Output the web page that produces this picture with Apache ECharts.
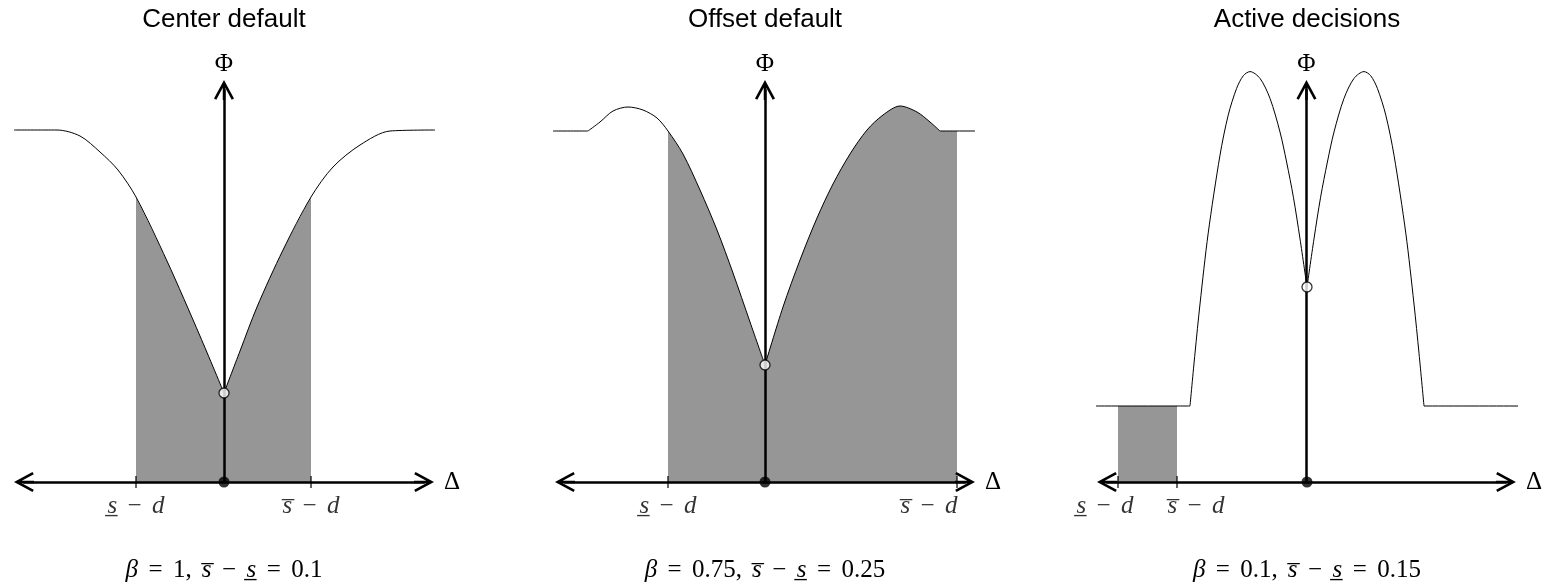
<!DOCTYPE html>
<html>
<head>
<meta charset="utf-8">
<title>Φ against Δ</title>
<script src="https://cdn.jsdelivr.net/npm/echarts@6/dist/echarts.min.js"></script>
<style>
  html, body { margin: 0; padding: 0; background: #fff; }
  #chart { width: 1545px; height: 588px; }
</style>
</head>
<body>
<div id="chart"></div>
<script>
// panel texts
const panelTitles = ['Center default', 'Offset default', 'Active decisions']
const betaValues = ['1', '0.75', '0.1']
const spreadValues = ['0.1', '0.25', '0.15']
const tickLabels = ['{i|s\u0332}{op|−}{i|d}', '{i|s\u0305}{op|−}{i|d}']

// curve pieces as [Δ, Φ], split where the curve has a corner
const centerLeft = [[-5.25, 8.8], [-4.175, 8.8], [-3.6, 8.65], [-3.1, 8.25], [-2.65, 7.8], [-2.2, 7.125], [-1.425, 5.525], [-0.6, 3.65], [0, 2.225]]
const centerRight = [[0, 2.225], [0.4, 3.275], [0.825, 4.375], [1.475, 5.8], [2.175, 7.125], [2.725, 7.875], [3.4, 8.425], [4.15, 8.775], [5.275, 8.8]]
const centerTicks = [-2.2, 2.175]

const offsetFlatL = [[-5.3, 8.775], [-4.425, 8.775]]
const offsetLeft = [[-4.425, 8.775], [-4.125, 9.0], [-3.8, 9.275], [-3.425, 9.375], [-3.05, 9.3], [-2.7, 9.1], [-2.425, 8.775], [-2.05, 8.2], [-1.625, 7.3], [-1.2, 6.3], [-0.8, 5.225], [-0.375, 4.0], [0, 2.925]]
const offsetRight = [[0, 2.925], [0.45, 4.375], [0.875, 5.55], [1.3, 6.6], [1.7, 7.45], [2.125, 8.2], [2.55, 8.8], [2.95, 9.175], [3.375, 9.4], [3.8, 9.25], [4.125, 9.0], [4.375, 8.775]]
const offsetFlatR = [[4.375, 8.775], [4.8, 8.775], [5.25, 8.775]]
const offsetTicks = [-2.425, 4.8]

const activeFlatL = [[-5.275, 1.9], [-4.725, 1.9], [-3.25, 1.9], [-2.925, 1.9]]
const activeLeft = [[-2.925, 1.9], [-2.8, 3.22], [-2.675, 4.45], [-2.47, 6.22], [-2.175, 8.17], [-1.97, 9.17], [-1.76, 9.84], [-1.59, 10.16], [-1.425, 10.26], [-1.175, 10.09], [-0.925, 9.59], [-0.675, 8.75], [-0.51, 8.0], [-0.34, 7.12], [-0.175, 6.08], [0, 4.875]]
const activeRight = [[0, 4.875], [0.175, 6.08], [0.34, 7.12], [0.51, 8.0], [0.675, 8.75], [0.925, 9.59], [1.175, 10.09], [1.425, 10.26], [1.59, 10.16], [1.76, 9.84], [1.97, 9.17], [2.175, 8.17], [2.47, 6.22], [2.675, 4.45], [2.8, 3.22], [2.925, 1.9]]
const activeFlatR = [[2.925, 1.9], [5.275, 1.9]]
const activeTicks = [-4.725, -3.25]

const panels = [
  { pieces: [centerLeft, centerRight], ticks: centerTicks, kink: centerLeft[centerLeft.length - 1][1], labelShift: [0, 0] },
  { pieces: [offsetFlatL, offsetLeft, offsetRight, offsetFlatR], ticks: offsetTicks, kink: offsetLeft[offsetLeft.length - 1][1], labelShift: [0, -28] },
  { pieces: [activeFlatL, activeLeft, activeRight, activeFlatR], ticks: activeTicks, kink: activeLeft[activeLeft.length - 1][1], labelShift: [-13, 19] }
]

// layout: pixel x of each Φ axis, 40 px per unit
const originX = [224, 765, 1307]
const SERIF = 'Liberation Serif'
const GRAY = '#969696'
const chevron = 'path://M10,0 L20,18.5 L17.7,19.8 L11.25,7.74 L11.25,20 L8.75,20 L8.75,7.74 L2.3,19.8 L0,18.5 Z'
// operators get a fixed box so the spacing reads like TeX math
const mathRich = {
  i: { fontStyle: 'italic', fontFamily: SERIF, fontSize: 25, color: '#000' },
  op: { fontFamily: SERIF, fontSize: 25, color: '#000', width: 35, align: 'center' },
  sp: { fontFamily: SERIF, fontSize: 25, color: '#000', width: 10 }
}
const hidden = { show: false }

const grid = [], xAxis = [], yAxis = [], series = [], title = []

panels.forEach((p, i) => {
  const ga = 2 * i, gb = 2 * i + 1
  // grid a: the drawn axes; grid b: same scale, a little wider, for the marks
  grid.push({ left: originX[i] - 200, top: 90, width: 400, height: 392 })
  grid.push({ left: originX[i] - 212, top: 90, width: 424, height: 392 })
  xAxis.push({
    type: 'value', gridIndex: ga, min: -5, max: 5, z: 3,
    name: 'Δ', nameLocation: 'end', nameGap: 20,
    nameTextStyle: { fontFamily: SERIF, fontSize: 25, color: '#000' },
    axisLine: { show: true, symbol: [chevron, chevron], symbolSize: [20, 20], lineStyle: { color: '#000', width: 2.5 } },
    axisTick: hidden, axisLabel: hidden, splitLine: hidden
  })
  yAxis.push({
    type: 'value', gridIndex: ga, min: 0, max: 9.8, z: 3,
    name: 'Φ', nameLocation: 'end', nameGap: 13,
    nameTextStyle: { fontFamily: SERIF, fontSize: 25, color: '#000' },
    axisLine: { show: true, onZero: true, symbol: ['none', chevron], symbolSize: [20, 20], lineStyle: { color: '#000', width: 2.5 } },
    axisTick: hidden, axisLabel: hidden, splitLine: hidden
  })
  xAxis.push({ type: 'value', gridIndex: gb, min: -5.3, max: 5.3, show: false })
  yAxis.push({ type: 'value', gridIndex: gb, min: 0, max: 9.8, show: false })

  const [lo, hi] = p.ticks
  p.pieces.forEach(piece => {
    const shade = piece.filter(pt => pt[0] >= lo && pt[0] <= hi)
    if (shade.length > 1) {
      series.push({
        type: 'line', xAxisIndex: gb, yAxisIndex: gb, data: shade, smooth: 0.3,
        showSymbol: false, clip: false, z: 1, silent: true,
        lineStyle: { width: 0 }, areaStyle: { color: GRAY, opacity: 1 }
      })
    }
    series.push({
      type: 'line', xAxisIndex: gb, yAxisIndex: gb, data: piece, smooth: 0.3,
      showSymbol: false, clip: false, z: 2, silent: true,
      lineStyle: { color: '#000', width: 1 }
    })
  })

  series.push({
    type: 'scatter', xAxisIndex: gb, yAxisIndex: gb, z: 4, silent: true, clip: false,
    symbol: 'rect', symbolSize: [1.5, 12], itemStyle: { color: '#000' },
    data: p.ticks.map((t, k) => ({
      value: [t, 0],
      label: {
        show: true, position: 'bottom', distance: 6, offset: [p.labelShift[k], 0],
        formatter: tickLabels[k], color: '#000', fontFamily: SERIF, fontSize: 25, rich: mathRich
      }
    }))
  })
  series.push({
    type: 'scatter', xAxisIndex: gb, yAxisIndex: gb, z: 6, silent: true, clip: false,
    symbolSize: 11, itemStyle: { color: '#000' }, data: [[0, 0]]
  })
  series.push({
    type: 'scatter', xAxisIndex: gb, yAxisIndex: gb, z: 6, silent: true, clip: false,
    symbolSize: 10, itemStyle: { color: '#fff', borderColor: '#000', borderWidth: 1.3 }, data: [[0, p.kink]]
  })

  title.push({
    text: panelTitles[i], left: originX[i], top: 7, textAlign: 'center', padding: 0,
    textStyle: { fontFamily: 'Liberation Sans', fontSize: 26, fontWeight: 'normal', color: '#000' }
  })
  title.push({
    text: `{i|β}{op|=}${betaValues[i]},{sp| }{i|s\u0305}{op|−}{i|s\u0332}{op|=}${spreadValues[i]}`,
    left: originX[i], top: 558, textAlign: 'center', padding: 0,
    textStyle: { fontFamily: SERIF, fontSize: 25, fontWeight: 'normal', color: '#000', rich: mathRich }
  })
})

const chart = echarts.init(document.getElementById('chart'))
chart.setOption({
  animation: false,
  backgroundColor: '#fff',
  title, grid, xAxis, yAxis, series
})
window.addEventListener('resize', () => chart.resize())
</script>
</body>
</html>
